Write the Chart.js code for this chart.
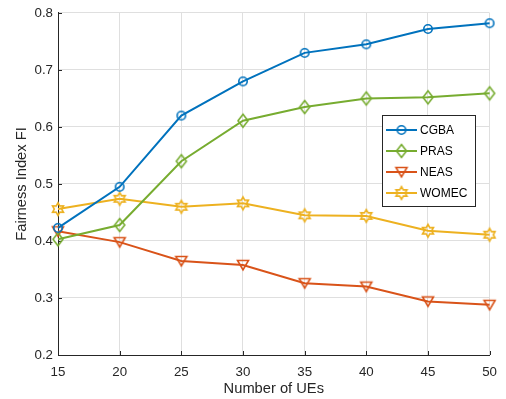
<!DOCTYPE html>
<html>
<head>
<meta charset="utf-8">
<script src="https://cdn.jsdelivr.net/npm/chart.js@4/dist/chart.umd.min.js"></script>
<style>
html,body{margin:0;padding:0;background:#fff;}
#wrap{width:506px;height:399px;position:relative;}
</style>
</head>
<body>
<div id="wrap"><canvas id="c" width="506" height="399"></canvas></div>
<script>
const numberOfUEs = [15, 20, 25, 30, 35, 40, 45, 50];
const cgba  = [0.423, 0.495, 0.620, 0.680, 0.730, 0.745, 0.772, 0.782];
const pras  = [0.403, 0.428, 0.540, 0.611, 0.635, 0.650, 0.652, 0.659];
const neas  = [0.417, 0.398, 0.365, 0.358, 0.326, 0.320, 0.294, 0.288];
const womec = [0.456, 0.474, 0.460, 0.466, 0.445, 0.444, 0.418, 0.411];
const yTicks = [0.2, 0.3, 0.4, 0.5, 0.6, 0.7, 0.8];
const seriesNames = ['CGBA', 'PRAS', 'NEAS', 'WOMEC'];
const seriesColors = ['#0072BD', '#77AC30', '#D95319', '#EDB120'];

const FONT = '"Liberation Sans", Arial, Helvetica, sans-serif';
const AXIS = '#262626';

function makeMarker(kind, color) {
  const s = 18, c = s / 2;
  const cv = document.createElement('canvas');
  cv.width = s; cv.height = s;
  const g = cv.getContext('2d');
  g.strokeStyle = color; g.lineWidth = 1.6; g.lineJoin = 'miter';
  g.beginPath();
  if (kind === 'circle') {
    g.arc(c, c, 4.2, 0, Math.PI * 2);
  } else if (kind === 'diamond') {
    g.moveTo(c, c - 6.5); g.lineTo(c + 5, c); g.lineTo(c, c + 6.5); g.lineTo(c - 5, c); g.closePath();
  } else if (kind === 'tri') {
    g.moveTo(c - 5.5, c - 4.5); g.lineTo(c + 5.5, c - 4.5); g.lineTo(c, c + 5); g.closePath();
  } else if (kind === 'hex') {
    const R = 6.3, r = R / Math.sqrt(3);
    for (let i = 0; i < 12; i++) {
      const a = -Math.PI / 2 + i * Math.PI / 6;
      const rr = i % 2 === 0 ? R : r;
      const x = c + rr * Math.cos(a), y = c + rr * Math.sin(a);
      if (i === 0) g.moveTo(x, y); else g.lineTo(x, y);
    }
    g.closePath();
  }
  g.stroke();
  return cv;
}
const markerKinds = ['circle', 'diamond', 'tri', 'hex'];
const markers = markerKinds.map((k, i) => makeMarker(k, seriesColors[i]));

const seriesData = [cgba, pras, neas, womec];
const datasets = seriesNames.map((n, i) => ({
  label: n,
  data: seriesData[i],
  borderColor: seriesColors[i],
  backgroundColor: seriesColors[i],
  borderWidth: 2,
  pointStyle: markers[i],
  pointRadius: 5,
  tension: 0
}));

const innerTicks = {
  id: 'innerTicks',
  beforeDatasetsDraw(chart) {
    const ctx = chart.ctx, a = chart.chartArea;
    const xs = chart.scales.x, ys = chart.scales.y;
    ctx.save();
    ctx.strokeStyle = AXIS; ctx.lineWidth = 1;
    ctx.beginPath();
    numberOfUEs.forEach((v, i) => {
      const px = Math.round(xs.getPixelForValue(i)) + 0.5;
      ctx.moveTo(px, a.bottom); ctx.lineTo(px, a.bottom - 4);
    });
    yTicks.forEach(v => {
      const py = Math.round(ys.getPixelForValue(v)) + 0.5;
      ctx.moveTo(a.left, py); ctx.lineTo(a.left + 4, py);
    });
    ctx.stroke();
    ctx.restore();
  }
};

const boxLegend = {
  id: 'boxLegend',
  afterDraw(chart) {
    const ctx = chart.ctx;
    const bx = 382.5, by = 115.5, bw = 93, bh = 91;
    ctx.save();
    ctx.fillStyle = '#fff';
    ctx.fillRect(bx, by, bw, bh);
    ctx.strokeStyle = AXIS; ctx.lineWidth = 1;
    ctx.strokeRect(bx, by, bw, bh);
    ctx.font = '12px ' + FONT;
    ctx.textBaseline = 'middle';
    seriesNames.forEach((n, i) => {
      const y = 130 + i * 21;
      ctx.strokeStyle = seriesColors[i]; ctx.lineWidth = 2;
      ctx.beginPath(); ctx.moveTo(386, y); ctx.lineTo(417, y); ctx.stroke();
      const m = markers[i];
      ctx.drawImage(m, 401.5 - m.width / 2, y - m.height / 2);
      ctx.fillStyle = '#000';
      ctx.fillText(n, 420, y + 0.5);
    });
    ctx.restore();
  }
};

new Chart(document.getElementById('c'), {
  type: 'line',
  data: { labels: numberOfUEs.map(String), datasets },
  options: {
    responsive: false,
    animation: false,
    devicePixelRatio: 1,
    layout: { padding: { top: 12, right: 14, left: 0, bottom: 0 } },
    plugins: { legend: { display: false }, tooltip: { enabled: false } },
    scales: {
      x: {
        type: 'category',
        offset: false,
        grid: { color: '#dfdfdf', lineWidth: 1, drawTicks: false },
        border: { color: AXIS, width: 1 },
        ticks: { color: AXIS, font: { family: FONT, size: 13.3 }, padding: 9, maxRotation: 0 },
        title: { display: true, text: 'Number of UEs', color: AXIS, font: { family: FONT, size: 14.7 }, padding: { top: 0, bottom: 1 } },
        afterFit(s) { s.height = 44; }
      },
      y: {
        min: 0.2, max: 0.8,
        afterBuildTicks(s) { s.ticks = yTicks.map(v => ({ value: v })); },
        grid: { color: '#dfdfdf', lineWidth: 1, drawTicks: false },
        border: { color: AXIS, width: 1 },
        ticks: { color: AXIS, font: { family: FONT, size: 13.3 }, padding: 5, callback: v => v.toFixed(1) },
        title: { display: true, text: 'Fairness Index FI', color: AXIS, font: { family: FONT, size: 14.7 }, padding: { top: 13, bottom: 0 } },
        afterFit(s) { s.width = 58; }
      }
    }
  },
  plugins: [innerTicks, boxLegend]
});
</script>
</body>
</html>
